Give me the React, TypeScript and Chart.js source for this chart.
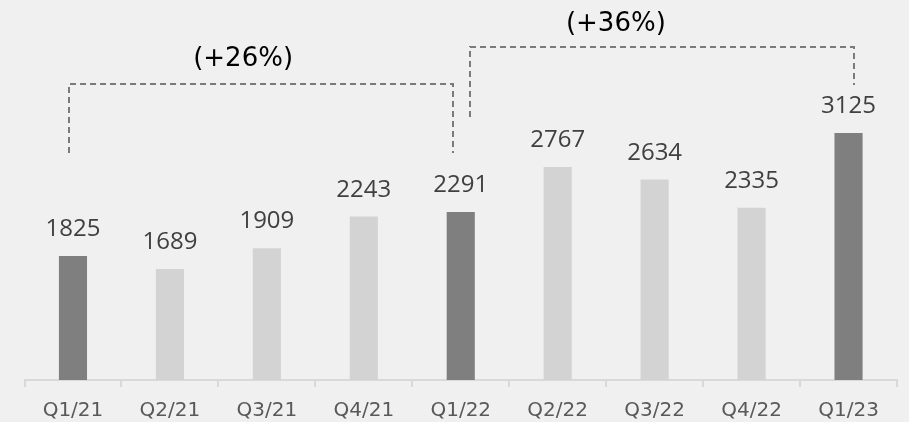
import React, { useEffect, useRef } from "react";
import { Chart, registerables } from "chart.js";

Chart.register(...registerables);

const categories = ["Q1/21", "Q2/21", "Q3/21", "Q4/21", "Q1/22", "Q2/22", "Q3/22", "Q4/22", "Q1/23"];
const values = [1825, 1689, 1909, 2243, 2291, 2767, 2634, 2335, 3125];
const highlighted = [true, false, false, false, true, false, false, false, true];

// growth brackets (x in category index units, y in value units)
const bracketLabels = ["(+26%)", "(+36%)"];
const bracketFromX = [-0.04, 4.098];
const bracketToX = [3.917, 8.057];
const bracketTopY = [3649, 4035];
const bracketLeftEndY = [2915, 3295];
const bracketRightEndY = [2915, 3633];
const bracketLabelX = [1.755, 5.6];
const bracketLabelY = [3910, 4280];

const Y_MIN = 515;
const Y_MAX = 4532;

const DARK = "#7f7f7f";
const LIGHT = "#d3d3d3";
const BG = "#f0f0f0";

const bgPlugin = {
  id: "bg",
  beforeDraw(chart: any) {
    const ctx = chart.ctx;
    ctx.save();
    ctx.fillStyle = BG;
    ctx.fillRect(0, 0, chart.width, chart.height);
    ctx.restore();
  },
};

const labelsPlugin = {
  id: "valueLabels",
  afterDatasetsDraw(chart: any) {
    const ctx = chart.ctx;
    const meta = chart.getDatasetMeta(0);
    ctx.save();
    ctx.fillStyle = "#404040";
    ctx.font = '24px "Open Sans"';
    ctx.textAlign = "center";
    ctx.textBaseline = "alphabetic";
    meta.data.forEach((el: any, i: number) => {
      ctx.fillText(String(values[i]), el.x, el.y - 20);
    });
    ctx.restore();
  },
};

const bracketPlugin = {
  id: "brackets",
  afterDraw(chart: any) {
    const ctx = chart.ctx;
    const xs = chart.scales.x;
    const ys = chart.scales.y;
    ctx.save();
    ctx.strokeStyle = "#7a7a7a";
    ctx.lineWidth = 2;
    ctx.setLineDash([6, 4]);
    for (let i = 0; i < bracketLabels.length; i++) {
      const x1 = Math.round(xs.getPixelForValue(bracketFromX[i]));
      const x2 = Math.round(xs.getPixelForValue(bracketToX[i]));
      const yt = Math.round(ys.getPixelForValue(bracketTopY[i]));
      const yl = ys.getPixelForValue(bracketLeftEndY[i]);
      const yr = ys.getPixelForValue(bracketRightEndY[i]);
      ctx.beginPath();
      ctx.moveTo(x1, yl);
      ctx.lineTo(x1, yt);
      ctx.lineTo(x2, yt);
      ctx.lineTo(x2, yr);
      ctx.stroke();
    }
    ctx.setLineDash([]);
    ctx.fillStyle = "#000000";
    ctx.font = '26px "DejaVu Sans"';
    ctx.textAlign = "center";
    ctx.textBaseline = "middle";
    for (let i = 0; i < bracketLabels.length; i++) {
      ctx.fillText(
        bracketLabels[i],
        xs.getPixelForValue(bracketLabelX[i]),
        ys.getPixelForValue(bracketLabelY[i])
      );
    }
    ctx.restore();
  },
};

export default function App() {
  const ref = useRef<HTMLCanvasElement | null>(null);
  useEffect(() => {
    document.body.style.margin = "0";
    document.body.style.background = BG;
    const chart = new Chart(ref.current as HTMLCanvasElement, {
      type: "bar",
      data: {
        labels: categories,
        datasets: [
          {
            data: values,
            backgroundColor: highlighted.map((h) => (h ? DARK : LIGHT)),
            borderWidth: 0,
            categoryPercentage: 1,
            barPercentage: 0.29,
          },
        ],
      },
      options: {
        responsive: false,
        animation: false,
        devicePixelRatio: 1,
        layout: { padding: { left: 24.5, right: 12, top: 0, bottom: 0 } },
        plugins: { legend: { display: false }, tooltip: { enabled: false } },
        scales: {
          x: {
            afterFit: (scale: any) => {
              scale.height = 42;
            },
            grid: {
              display: true,
              drawOnChartArea: false,
              drawTicks: true,
              tickLength: 7,
              color: "#d9d9d9",
              lineWidth: 2,
              offset: true,
            },
            border: { display: true, color: "#d9d9d9", width: 2 },
            ticks: {
              color: "#595959",
              font: { family: "'DejaVu Sans'", size: 20 },
              padding: 12,
              maxRotation: 0,
              autoSkip: false,
            },
          },
          y: {
            display: false,
            min: Y_MIN,
            max: Y_MAX,
          },
        },
      },
      plugins: [bgPlugin, labelsPlugin, bracketPlugin],
    });
    return () => chart.destroy();
  }, []);
  return (
    <div style={{ width: 909, height: 422 }}>
      <canvas ref={ref} width={909} height={422} />
    </div>
  );
}
